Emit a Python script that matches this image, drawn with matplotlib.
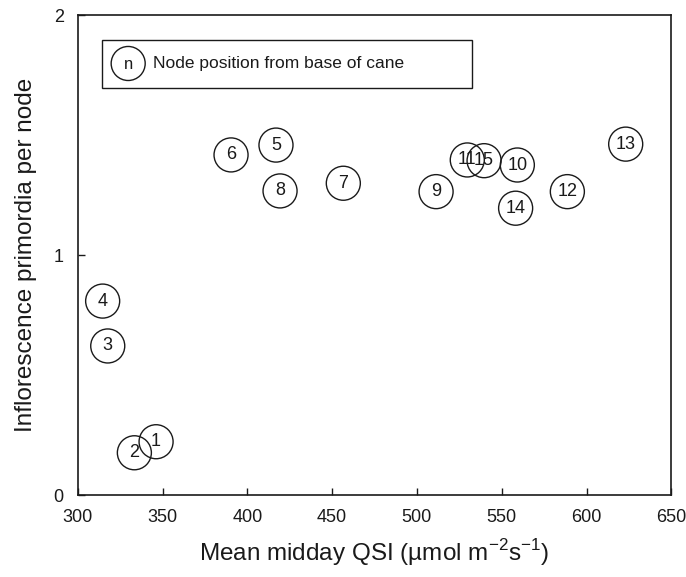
import matplotlib
matplotlib.use("Agg")
import matplotlib.pyplot as plt
from matplotlib.patches import Rectangle

# ---- data ----
nodes = [1, 2, 3, 4, 5, 6, 7, 8, 9, 10, 11, 12, 13, 14, 15]
qsi = [346.2, 333.4, 317.7, 314.7, 416.9, 390.4, 456.6, 419.3, 511.3, 559.2, 529.7, 588.7, 623.1, 558.2, 539.6]
primordia = [0.222, 0.176, 0.621, 0.808, 1.458, 1.417, 1.299, 1.267, 1.264, 1.375, 1.396, 1.264, 1.462, 1.195, 1.393]

x_ticks = [300, 350, 400, 450, 500, 550, 600, 650]
y_ticks = [0, 1, 2]

plt.rcParams['font.family'] = ['Liberation Sans', 'DejaVu Sans']
plt.rcParams['mathtext.fontset'] = 'custom'
plt.rcParams['mathtext.rm'] = 'Liberation Sans'

INK = '#1a1a1a'

fig = plt.figure(figsize=(6.86, 5.77), dpi=100)
ax = fig.add_axes([0.1133, 0.1421, 0.8653, 0.8319])

# open circles with node numbers
ax.scatter(qsi, primordia, s=600, facecolors='none', edgecolors=INK,
           linewidths=1.0, zorder=3, clip_on=False)
for n, x, y in zip(nodes, qsi, primordia):
    ax.text(x, y, str(n), ha='center', va='center', fontsize=13,
            color=INK, zorder=4)

ax.set_xlim(300, 650)
ax.set_ylim(0, 2)
ax.set_xticks(x_ticks)
ax.set_yticks(y_ticks)
ax.tick_params(direction='in', length=5, width=1, labelsize=13,
               colors=INK, pad=10)
for sp in ax.spines.values():
    sp.set_linewidth(1.2)
    sp.set_color(INK)

ax.set_xlabel(r'Mean midday QSI (µmol m$^{\mathregular{-2}}$s$^{\mathregular{-1}}$)',
              fontsize=17.5, labelpad=8, color=INK)
ax.set_ylabel('Inflorescence primordia per node', fontsize=17.5, labelpad=12,
              color=INK)

# key box
ax.add_patch(Rectangle((0.041, 0.848), 0.623, 0.100, transform=ax.transAxes,
                       facecolor='white', edgecolor=INK, linewidth=1.0, zorder=5))
ax.scatter([0.085], [0.899], s=600, transform=ax.transAxes, facecolors='none',
           edgecolors=INK, linewidths=1.0, zorder=6)
ax.text(0.085, 0.896, 'n', transform=ax.transAxes, ha='center', va='center',
        fontsize=12, color=INK, zorder=7)
ax.text(0.127, 0.899, 'Node position from base of cane', transform=ax.transAxes,
        ha='left', va='center', fontsize=12.5, color=INK, zorder=7)

fig.savefig('out.png', dpi=100)
